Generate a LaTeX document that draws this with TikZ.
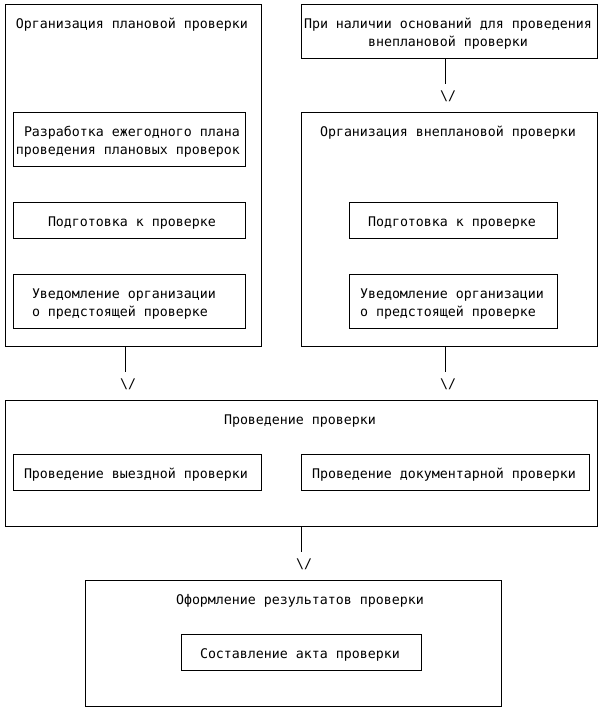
\documentclass[tikz,border=0pt]{standalone}
\usepackage{fontspec}
\setmonofont{DejaVu Sans Mono}
\begin{document}
\begin{tikzpicture}[x=1pt,y=-1pt,
  box/.style={draw=black, line width=1pt, inner sep=0pt, outer sep=0pt},
  txt/.style={inner sep=0pt, outer sep=0pt, anchor=base west, font=\ttfamily\fontsize{13.287}{18}\selectfont},
  conn/.style={draw=black, line width=1pt}]
\useasboundingbox (0,0) rectangle (602,712);
% boxes
\node[box, minimum width=256pt, minimum height=342pt] (A) at (133.5,175.5) {};
\node[box, minimum width=296pt, minimum height=54pt] (B) at (449.5,31.5) {};
\node[box, minimum width=296pt, minimum height=234pt] (C) at (449.5,229.5) {};
\node[box, minimum width=232pt, minimum height=54pt] (A1) at (129.5,139.5) {};
\node[box, minimum width=232pt, minimum height=36pt] (A2) at (129.5,220.5) {};
\node[box, minimum width=232pt, minimum height=54pt] (A3) at (129.5,301.5) {};
\node[box, minimum width=208pt, minimum height=36pt] (C1) at (453.5,220.5) {};
\node[box, minimum width=208pt, minimum height=54pt] (C2) at (453.5,301.5) {};
\node[box, minimum width=592pt, minimum height=126pt] (D) at (301.5,463.5) {};
\node[box, minimum width=248pt, minimum height=36pt] (D1) at (137.5,472.5) {};
\node[box, minimum width=288pt, minimum height=36pt] (D2) at (445.5,472.5) {};
\node[box, minimum width=416pt, minimum height=126pt] (E) at (293.5,643.5) {};
\node[box, minimum width=240pt, minimum height=36pt] (E1) at (301.5,652.5) {};
% texts
\node[txt] (tA) at (16,28) {Организация плановой проверки};
\node[txt] (tB1) at (304,28) {При наличии оснований для проведения};
\node[txt] (tB2) at (368,46) {внеплановой проверки};
\node[txt] (tA1a) at (24,136) {Разработка ежегодного плана};
\node[txt] (tA1b) at (16,154) {проведения плановых проверок};
\node[txt] (tC) at (320,136) {Организация внеплановой проверки};
\node[txt] (tA2) at (48,226) {Подготовка к проверке};
\node[txt] (tC1) at (368,226) {Подготовка к проверке};
\node[txt] (tA3a) at (32,298) {Уведомление организации};
\node[txt] (tA3b) at (32,316) {о предстоящей проверке};
\node[txt] (tC2a) at (360,298) {Уведомление организации};
\node[txt] (tC2b) at (360,316) {о предстоящей проверке};
\node[txt] (tD) at (224,424) {Проведение проверки};
\node[txt] (tD1) at (24,478) {Проведение выездной проверки};
\node[txt] (tD2) at (312,478) {Проведение документарной проверки};
\node[txt] (tE) at (176,604) {Оформление результатов проверки};
\node[txt] (tE1) at (200,658) {Составление акта проверки};
% arrow heads as text
\node[txt] (v1) at (440,100) {\textbackslash/};
\node[txt] (v2) at (120,388) {\textbackslash/};
\node[txt] (v3) at (440,388) {\textbackslash/};
\node[txt] (v4) at (296,568) {\textbackslash/};
% connector ends
\coordinate (c1) at (445.5,84);
\coordinate (c2) at (125.5,372);
\coordinate (c3) at (445.5,372);
\coordinate (c4) at (301.5,552);
\draw[conn] (B.south -| c1) -- (c1);
\draw[conn] (A.south -| c2) -- (c2);
\draw[conn] (C.south -| c3) -- (c3);
\draw[conn] (D.south -| c4) -- (c4);
\end{tikzpicture}
\end{document}
